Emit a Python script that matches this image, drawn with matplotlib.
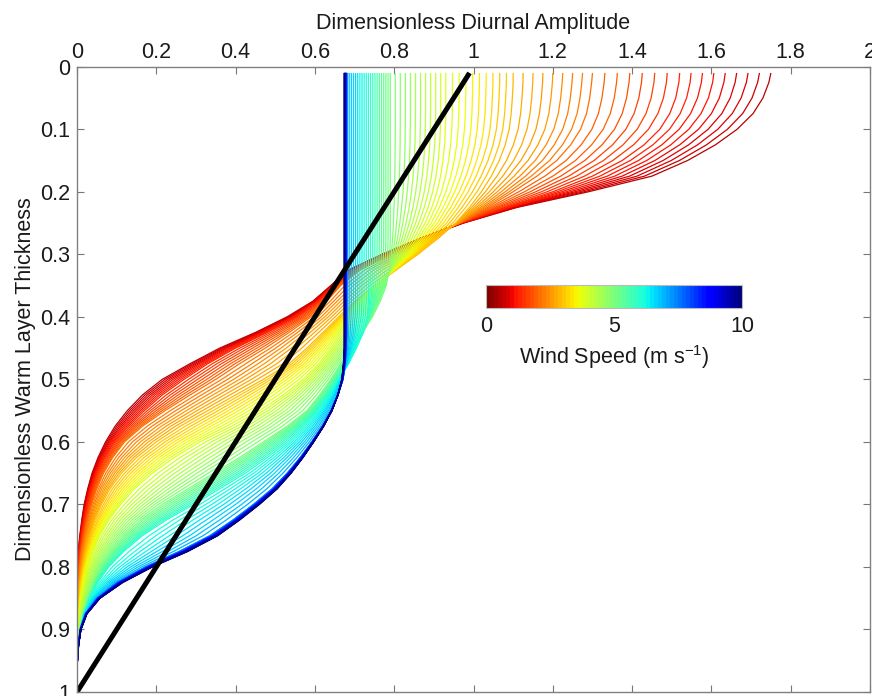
import numpy as np
import matplotlib
matplotlib.use("Agg")
import matplotlib.pyplot as plt
from matplotlib import colors
from matplotlib.cm import ScalarMappable

plt.rcParams["font.family"] = ["Liberation Sans", "DejaVu Sans"]
plt.rcParams["mathtext.fontset"] = "custom"
plt.rcParams["mathtext.rm"] = "Liberation Sans"

# depth levels (dimensionless warm layer thickness) at which profiles were read
depth = [0.01, 0.025, 0.05, 0.075, 0.1, 0.125, 0.15, 0.175, 0.2, 0.225,
         0.25, 0.275, 0.3, 0.325, 0.35, 0.375, 0.4, 0.425, 0.45, 0.475,
         0.5, 0.525, 0.55, 0.575, 0.6, 0.625, 0.65, 0.675, 0.7, 0.725,
         0.75, 0.775, 0.8, 0.825, 0.85, 0.875, 0.9, 0.925, 0.95, 0.975, 1.0]

# dimensionless diurnal amplitude profiles, one per wind speed
amp_w06 = [1.75, 1.745, 1.73, 1.705, 1.665, 1.61, 1.54, 1.45, 1.29, 1.11,
           0.975, 0.865, 0.77, 0.685, 0.64, 0.595, 0.53, 0.45, 0.36, 0.285,
           0.215, 0.165, 0.127, 0.096, 0.072, 0.053, 0.038, 0.027, 0.018, 0.012,
           0.007, 0.003, 0.001, 0, 0, 0, 0, 0, 0, 0, 0]
amp_w14 = [1.52, 1.518, 1.51, 1.495, 1.47, 1.43, 1.375, 1.3, 1.2, 1.08,
           0.965, 0.865, 0.775, 0.695, 0.65, 0.61, 0.555, 0.48, 0.4, 0.33,
           0.27, 0.215, 0.17, 0.13, 0.095, 0.07, 0.051, 0.037, 0.027, 0.019,
           0.012, 0.007, 0.004, 0.002, 0.001, 0, 0, 0, 0, 0, 0]
amp_w21 = [1.30, 1.298, 1.293, 1.285, 1.27, 1.245, 1.21, 1.16, 1.1, 1.035,
           0.965, 0.88, 0.795, 0.715, 0.665, 0.63, 0.59, 0.535, 0.475, 0.41,
           0.35, 0.285, 0.222, 0.165, 0.12, 0.09, 0.067, 0.05, 0.037, 0.027,
           0.019, 0.012, 0.007, 0.004, 0.002, 0.001, 0, 0, 0, 0, 0]
amp_w29 = [1.10, 1.10, 1.098, 1.095, 1.09, 1.08, 1.065, 1.045, 1.02, 0.99,
           0.955, 0.91, 0.86, 0.805, 0.75, 0.7, 0.66, 0.62, 0.58, 0.535,
           0.47, 0.4, 0.33, 0.26, 0.2, 0.15, 0.112, 0.083, 0.062, 0.045,
           0.032, 0.022, 0.014, 0.008, 0.005, 0.003, 0.001, 0, 0, 0, 0]
amp_w39 = [0.93, 0.93, 0.93, 0.93, 0.929, 0.927, 0.923, 0.917, 0.908, 0.895,
           0.878, 0.856, 0.83, 0.795, 0.755, 0.72, 0.69, 0.665, 0.64, 0.61,
           0.57, 0.52, 0.46, 0.39, 0.31, 0.245, 0.19, 0.145, 0.11, 0.08,
           0.057, 0.04, 0.027, 0.018, 0.011, 0.006, 0.003, 0.001, 0, 0, 0]
amp_w50 = [0.79, 0.79, 0.79, 0.79, 0.79, 0.79, 0.79, 0.79, 0.79, 0.79,
           0.79, 0.79, 0.789, 0.787, 0.78, 0.765, 0.745, 0.72, 0.692, 0.665,
           0.64, 0.612, 0.58, 0.53, 0.47, 0.41, 0.345, 0.28, 0.215, 0.16,
           0.118, 0.085, 0.06, 0.042, 0.028, 0.017, 0.009, 0.004, 0.001, 0, 0]
amp_w60 = [0.735, 0.735, 0.735, 0.735, 0.735, 0.735, 0.735, 0.735, 0.735, 0.735,
           0.735, 0.735, 0.735, 0.735, 0.735, 0.735, 0.732, 0.722, 0.705, 0.685,
           0.66, 0.635, 0.605, 0.57, 0.53, 0.48, 0.425, 0.36, 0.295, 0.225,
           0.165, 0.118, 0.08, 0.052, 0.032, 0.017, 0.008, 0.004, 0.001, 0, 0]
amp_w70 = [0.681, 0.681, 0.681, 0.681, 0.681, 0.681, 0.681, 0.681, 0.681, 0.681,
           0.681, 0.681, 0.681, 0.681, 0.681, 0.681, 0.681, 0.681, 0.68, 0.677,
           0.671, 0.658, 0.641, 0.619, 0.592, 0.563, 0.53, 0.492, 0.445, 0.393,
           0.335, 0.258, 0.172, 0.1, 0.05, 0.021, 0.008, 0.003, 0.001, 0, 0]
amp_w100 = [0.674, 0.674, 0.674, 0.674, 0.674, 0.674, 0.674, 0.674, 0.674, 0.674,
            0.674, 0.674, 0.674, 0.674, 0.674, 0.674, 0.674, 0.674, 0.674, 0.672,
            0.668, 0.658, 0.643, 0.622, 0.597, 0.57, 0.54, 0.505, 0.46, 0.41,
            0.355, 0.28, 0.19, 0.115, 0.058, 0.025, 0.01, 0.004, 0.001, 0, 0]

key_winds = [0.6, 1.4, 2.1, 2.9, 3.9, 5.0, 6.0, 7.0, 10.0]
wind_speeds = np.round(np.arange(0.6, 10.01, 0.1), 1)

# reference line: amplitude = 1 - thickness
ref_amp = [0.0, 0.99]
ref_depth = [1.0, 0.01]

xticks = [0, 0.2, 0.4, 0.6, 0.8, 1.0, 1.2, 1.4, 1.6, 1.8, 2.0]
xtick_labels = ["0", "0.2", "0.4", "0.6", "0.8", "1", "1.2", "1.4", "1.6", "1.8", "2"]
yticks = [0, 0.1, 0.2, 0.3, 0.4, 0.5, 0.6, 0.7, 0.8, 0.9, 1.0]
ytick_labels = ["0", "0.1", "0.2", "0.3", "0.4", "0.5", "0.6", "0.7", "0.8", "0.9", "1"]
cbar_ticks = [0, 5, 10]

profiles = np.array([amp_w06, amp_w14, amp_w21, amp_w29, amp_w39,
                     amp_w50, amp_w60, amp_w70, amp_w100])

cmap = plt.get_cmap("jet_r", 64)
norm = colors.Normalize(vmin=0, vmax=10)
text_color = "#1a1a1a"

fig = plt.figure(figsize=(8.72, 6.96), dpi=100)
ax = fig.add_axes([77 / 872, 1 - 692 / 696, (870 - 77) / 872, (692 - 66.7) / 696])

# family of profiles, low wind first so the blue ones end up on top
for w in wind_speeds:
    amp = [np.interp(w, key_winds, profiles[:, j]) for j in range(len(depth))]
    ax.plot(amp, depth, color=cmap(norm(w)), lw=0.9, solid_capstyle="butt")

ax.plot(ref_amp, ref_depth, color="black", lw=3.6, solid_capstyle="butt")

ax.set_xlim(0, 2)
ax.set_ylim(1, 0)
ax.xaxis.set_ticks_position("both")
ax.yaxis.set_ticks_position("both")
ax.xaxis.set_label_position("top")
ax.tick_params(axis="x", labeltop=True, labelbottom=False)
ax.tick_params(which="both", direction="in", length=5, width=0.8,
               color="#777777", labelsize=15.5, labelcolor=text_color)
ax.tick_params(axis="x", pad=3)
ax.tick_params(axis="y", pad=5)
ax.set_xticks(xticks)
ax.set_xticklabels(xtick_labels)
ax.set_yticks(yticks)
ax.set_yticklabels(ytick_labels)
for s in ax.spines.values():
    s.set_color("#808080")
    s.set_linewidth(1.0)

ax.set_xlabel("Dimensionless Diurnal Amplitude", fontsize=15.5, color=text_color, labelpad=9)
ax.set_ylabel("Dimensionless Warm Layer Thickness", fontsize=15.5, color=text_color, labelpad=3)

# colour bar
cax = fig.add_axes([486 / 872, 1 - 308 / 696, (742 - 486) / 872, (308 - 285) / 696])
cb = fig.colorbar(ScalarMappable(norm=norm, cmap=cmap), cax=cax, orientation="horizontal")
cb.set_ticks(cbar_ticks)
cb.ax.tick_params(length=0, labelsize=15.5, labelcolor=text_color, pad=6)
cb.outline.set_edgecolor("#bbbbbb")
cb.outline.set_linewidth(0.8)
cb.set_label("Wind Speed (m s$^{\\mathregular{-1}}$)", fontsize=15.5, color=text_color, labelpad=4)

fig.savefig("out.png", dpi=100)
